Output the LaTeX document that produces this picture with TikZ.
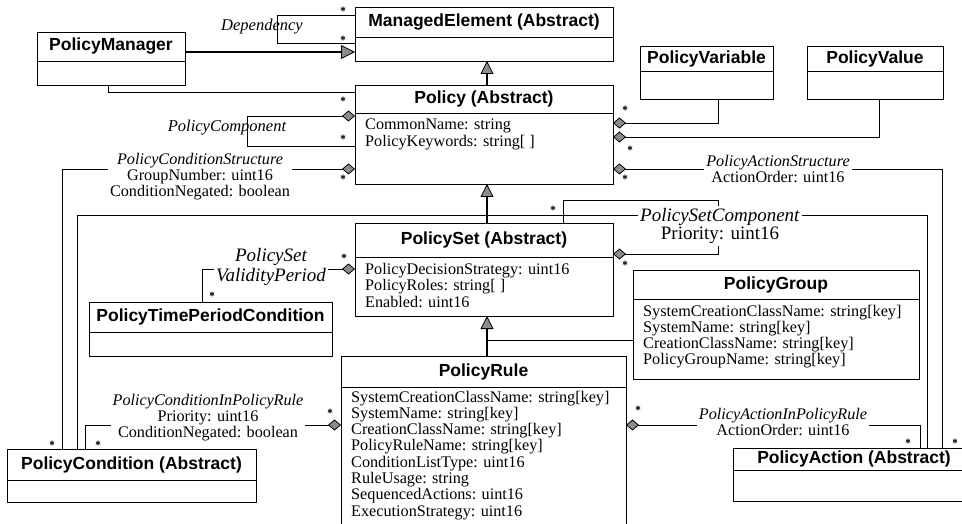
\documentclass[tikz,border=0pt]{standalone}
\usepackage{fontspec}
\setmainfont{Liberation Serif}
\setsansfont{Liberation Sans}
\usetikzlibrary{arrows.meta,calc,shapes.geometric}
\tikzset{
  box/.style={draw, line width=0.9pt, rectangle, inner sep=0pt, outer sep=0pt, anchor=north west, fill=white},
  cname/.style={font=\sffamily\bfseries\fontsize{17.5}{20}\selectfont, inner sep=0pt},
  attr/.style={font=\fontsize{16.2}{16.3}\selectfont, inner sep=0pt, anchor=base west},
  alabel/.style={fill=white, align=center, inner sep=2pt, font=\fontsize{16.2}{16}\selectfont},
  blabel/.style={fill=white, align=center, inner sep=2pt, font=\fontsize{19}{18}\selectfont},
  nlabel/.style={inner sep=0pt, font=\itshape\fontsize{16.5}{16}\selectfont},
  conn/.style={line width=0.9pt},
  heavy/.style={line width=1.8pt},
  agg/.style={conn, {Diamond[length=13pt,width=11pt,fill=black!45,line width=0.8pt]}-},
  inh/.style={heavy, -{Triangle[length=13pt,width=13pt,fill=black!45,line width=0.8pt]}},
  mult/.style={star, star points=6, star point ratio=2.2, minimum size=6pt, inner sep=0pt, fill=black!85},
}
\newcommand\umlbox[7]{%
  \node[box, minimum width={#4-#2}, minimum height={#5-#3}] (#1) at (#2,#3) {};
  \draw[line width=0.9pt] (#2,#6) -- (#4,#6);
  \node[cname] (#1-t) at ({(#2+#4)/2},{(#3+#6)/2}) {#7};
}
\newcommand\attrlist[4]{%
  \foreach \tx [count=\i from 0] in {#4} {\node[attr] (#1-a\i) at (#2,{#3+16.3*\i}) {\tx};}
}
\begin{document}
\begin{tikzpicture}[x=1pt,y=-1pt]
\clip (0,0) rectangle (962,524);
\fill[white] (0,0) rectangle (962,524);

% ---- classes
\umlbox{me}{355}{7}{613}{61}{37}{ManagedElement (Abstract)}
\umlbox{pm}{37}{32}{185}{85}{61}{PolicyManager}
\umlbox{policy}{355}{85}{613}{184}{113}{Policy (Abstract)}
\umlbox{pvar}{640}{46}{773}{99}{71}{PolicyVariable}
\umlbox{pval}{807}{46}{943}{99}{71}{PolicyValue}
\umlbox{ps}{355}{223}{613}{316}{257}{PolicySet (Abstract)}
\umlbox{ptpc}{89}{302}{332}{356}{332}{PolicyTimePeriodCondition}
\umlbox{pg}{633}{270}{919}{379}{299}{PolicyGroup}
\umlbox{pr}{341}{356}{626}{540}{387}{PolicyRule}
\umlbox{pc}{7}{449}{256}{502}{480}{PolicyCondition (Abstract)}
\umlbox{pa}{733}{448}{975}{501}{470}{PolicyAction (Abstract)}

\attrlist{policy}{365}{130}{{CommonName: string},{PolicyKeywords: string[ ]}}
\attrlist{ps}{365}{274.5}{{PolicyDecisionStrategy: uint16},{PolicyRoles: string[ ]},{Enabled: uint16}}
\attrlist{pr}{351}{402}{{SystemCreationClassName: string[key]},{SystemName: string[key]},{CreationClassName: string[key]},{PolicyRuleName: string[key]},{ConditionListType: uint16},{RuleUsage: string},{SequencedActions: uint16},{ExecutionStrategy: uint16}}
\attrlist{pg}{643}{316}{{SystemCreationClassName: string[key]},{SystemName: string[key]},{CreationClassName: string[key]},{PolicyGroupName: string[key]}}

% ---- inheritance
\draw[inh] (policy.north -| 487,0) -- (me.south -| 487,0);
\draw[inh] (ps.north -| 487,0) -- (policy.south -| 487,0);
\draw[inh] (pr.north -| 487,0) -- (ps.south -| 487,0);
\coordinate (pgjoin) at (487,340);
\draw[conn] (pg.west |- 0,340) -- (pgjoin);

% ---- PolicyManager associations
\draw[heavy, -{Triangle[length=14pt,width=14pt,fill=black!45,line width=0.8pt]}] (pm.east |- 0,52) -- (me.west |- 0,52);
\draw[conn] (pm.south -| 108,0) -- (108,92) -- (policy.west |- 0,92);

% ---- Dependency self loop
\draw[conn] (me.west |- 0,15) -- (277,15) -- (277,43) -- (me.west |- 0,43);
\node[nlabel] (dep) at (262,27) {Dependency};

% ---- PolicyComponent
\draw[agg] (policy.west |- 0,116) -- (247,116) -- (247,146) -- (policy.west |- 0,146);
\node[nlabel] (pcomp) at (227,128) {PolicyComponent};

% ---- PolicyConditionStructure
\draw[agg] (policy.west |- 0,169) -- (62,169) -- (pc.north -| 62,0);
% ---- long line
\draw[conn] (pc.north -| 77,0) -- (77,215) -- (927,215) -- (pa.north -| 927,0);
% ---- PolicySetComponent
\draw[agg] (ps.east |- 0,254) -- (718,254) -- (718,200) -- (563,200) -- (ps.north -| 563,0);
% ---- PolicyVariable / PolicyValue
\draw[agg] (policy.east |- 0,123) -- (718,123) -- (pvar.south -| 718,0);
\draw[agg] (policy.east |- 0,137) -- (879,137) -- (pval.south -| 879,0);
% ---- PolicyActionStructure
\draw[agg] (policy.east |- 0,169) -- (942,169) -- (pa.north -| 942,0);
% ---- PolicySetValidityPeriod
\draw[agg] (ps.west |- 0,269) -- (202,269) -- (ptpc.north -| 202,0);
% ---- PolicyConditionInPolicyRule
\draw[agg] (pr.west |- 0,425) -- (85,425) -- (pc.north -| 85,0);
% ---- PolicyActionInPolicyRule
\draw[agg] (pr.east |- 0,425) -- (920,425) -- (pa.north -| 920,0);

% ---- association labels
\node[alabel] (pcsl) at (200,177) {\textit{PolicyConditionStructure}\\GroupNumber: uint16\\ConditionNegated: boolean};
\node[alabel] (pasl) at (778,169) {\textit{PolicyActionStructure}\\ActionOrder: uint16};
\node[blabel] (pscl) at (720,226) {\textit{PolicySetComponent}\\Priority: uint16};
\node[blabel, font=\itshape\fontsize{19}{20}\selectfont] (psvl) at (271,267) {PolicySet\\ValidityPeriod};
\node[alabel] (pcrl) at (208,418) {\textit{PolicyConditionInPolicyRule}\\Priority: uint16\\ConditionNegated: boolean};
\node[alabel] (parl) at (783,422) {\textit{PolicyActionInPolicyRule}\\ActionOrder: uint16};

% ---- multiplicities
\foreach \p [count=\k] in {{343,9},{343,38},{343,99},{343,137},{343,177},{52,443},{98,443},{344,256},{212,294},{330,411},{553,208},{625,108},{630,148},{625,177},{625,263},{638,408},{908,441},{955,441}}
  {\node[mult] (m\k) at (\p) {};}
\end{tikzpicture}
\end{document}
